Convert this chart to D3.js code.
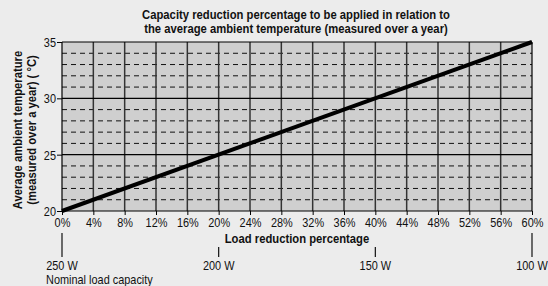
<!DOCTYPE html>
<html><head><meta charset="utf-8">
<script src="https://cdn.jsdelivr.net/npm/d3@7"></script>
<style>
html,body{margin:0;padding:0;background:#ececec;}
svg{display:block;}
text{font-family:"Liberation Sans",Arial,sans-serif;fill:#111;}
</style></head>
<body>
<svg id="c" width="548" height="286"></svg>
<script>
const titleLines = ["Capacity reduction percentage to be applied in relation to","the average ambient temperature (measured over a year)"];
const yTitleLines = ["Average ambient temperature","(measured over a year) ( °C)"];
const xTitle = "Load reduction percentage";
const xTicks = [0,4,8,12,16,20,24,28,32,36,40,44,48,52,56,60];
const yTicks = [20,25,30,35];
const yMinor = [21,22,23,24,26,27,28,29,31,32,33,34];
const lineX = [0,60];
const lineY = [20,35];
const wattPos = [0,20,40,60];
const wattLabels = ["250 W","200 W","150 W","100 W"];
const wattNote = "Nominal load capacity";

const SX = 0.84, FS = 13;
const BSX = 0.835, BFS = 13.5;
const svg = d3.select("#c");
const L=62, R=532, T=42, B=211;
const x = d3.scaleLinear().domain([0,60]).range([L,R]);
const y = d3.scaleLinear().domain([20,35]).range([B,T]);

function label(px, py, txt, opts={}) {
  const g = svg.append("g").attr("transform",`translate(${px},${py})${opts.rot?` rotate(${opts.rot})`:""}`);
  return g.append("text").attr("transform",`scale(${opts.sx||SX},1)`)
    .attr("text-anchor",opts.anchor||"middle")
    .attr("font-size",opts.size||FS)
    .attr("font-weight",opts.bold?"bold":"normal")
    .text(txt);
}

svg.append("rect").attr("x",0).attr("y",0).attr("width",548).attr("height",286).attr("fill","#ececec");
svg.append("rect").attr("x",L).attr("y",T).attr("width",R-L).attr("height",B-T).attr("fill","#cfcfcf");

svg.selectAll(".minor").data(yMinor).join("line")
  .attr("x1",L).attr("x2",R).attr("y1",d=>y(d)).attr("y2",d=>y(d))
  .attr("stroke","#111").attr("stroke-width",1).attr("stroke-dasharray","5,4");
svg.selectAll(".vg").data(xTicks.slice(1,-1)).join("line")
  .attr("x1",d=>x(d)).attr("x2",d=>x(d)).attr("y1",T).attr("y2",B)
  .attr("stroke","#333").attr("stroke-width",1.5);
svg.selectAll(".maj").data(yTicks).join("line")
  .attr("x1",L).attr("x2",R).attr("y1",d=>y(d)).attr("y2",d=>y(d))
  .attr("stroke","#000").attr("stroke-width",1.2);
svg.append("line").attr("x1",L).attr("x2",L).attr("y1",T).attr("y2",B).attr("stroke","#000").attr("stroke-width",1.2);
svg.append("line").attr("x1",R).attr("x2",R).attr("y1",T).attr("y2",B).attr("stroke","#000").attr("stroke-width",1.2);

const yAxis = d3.axisLeft(y).tickValues(yTicks).tickSize(5).tickFormat(d3.format("d"));
const gy = svg.append("g").attr("transform",`translate(${L},0)`).call(yAxis);
gy.select(".domain").remove();
gy.selectAll("line").attr("stroke","#000");
gy.selectAll("text").attr("font-size",FS).attr("x",-6/SX).attr("dy","0.35em")
  .attr("transform",`scale(${SX},1)`).attr("fill","#111");

const xAxis = d3.axisBottom(x).tickValues(xTicks).tickSize(4).tickFormat(d=>d+"%");
const gx = svg.append("g").attr("transform",`translate(0,${B})`).call(xAxis);
gx.select(".domain").remove();
gx.selectAll("line").attr("stroke","#000");
gx.selectAll("text").attr("font-size",FS).attr("y",16).attr("dy",null)
  .attr("transform",`scale(${SX},1)`).attr("fill","#111");

svg.append("path").datum(lineX.map((v,i)=>[v,lineY[i]]))
  .attr("d",d3.line().x(d=>x(d[0])).y(d=>y(d[1])))
  .attr("stroke","#000").attr("stroke-width",4).attr("fill","none");

titleLines.forEach((t,i)=>label((L+R)/2-1, 19+i*14, t, {bold:true, size:BFS, sx:BSX}));
label((L+R)/2, 242.5, xTitle, {bold:true, size:BFS, sx:BSX});
yTitleLines.forEach((t,i)=>label(22+i*14, 130, t, {bold:true, size:BFS, sx:BSX, rot:-90}));

svg.selectAll(".wt").data(wattPos).join("line")
  .attr("x1",d=>x(d)).attr("x2",d=>x(d))
  .attr("y1",(d,i)=>(i===0||i===wattPos.length-1)?233:247).attr("y2",257)
  .attr("stroke","#111").attr("stroke-width",1.2);
wattPos.forEach((p,i)=>label(x(p), 270, wattLabels[i], {}));
label(46, 284, wattNote, {anchor:"start"});
</script>
</body></html>
